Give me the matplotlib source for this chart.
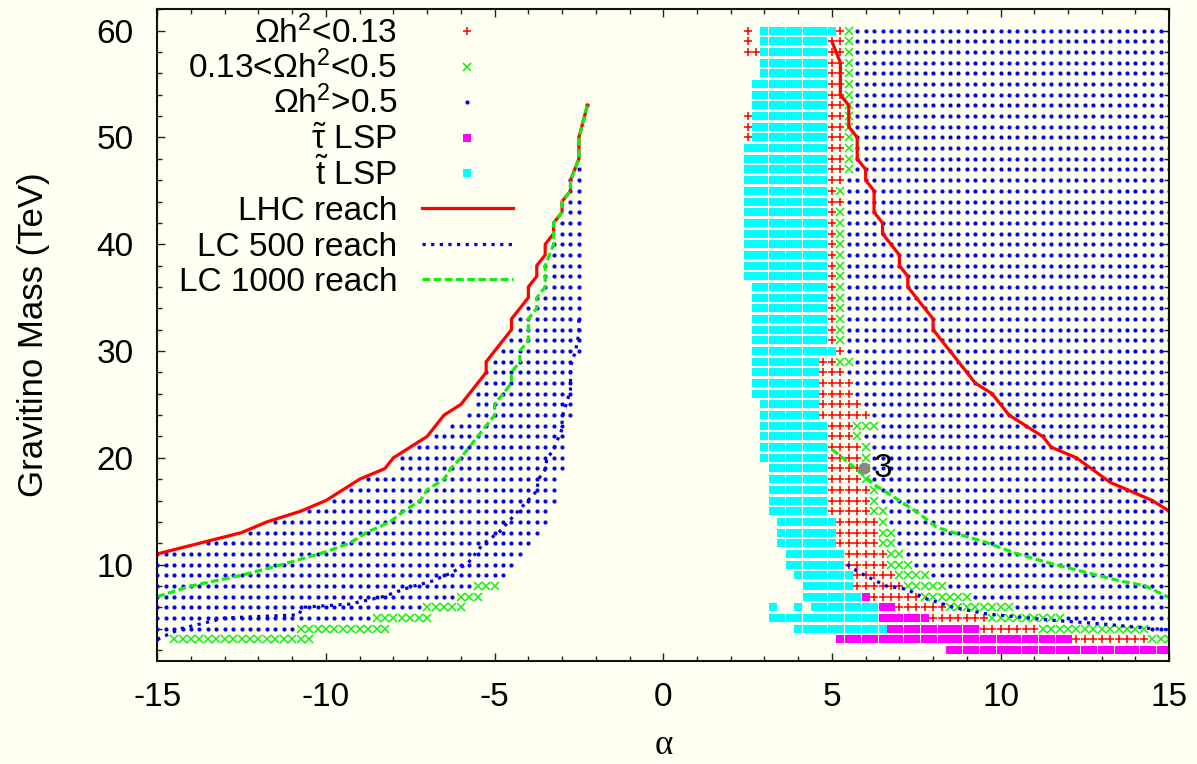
import numpy as np
import matplotlib.pyplot as plt
from matplotlib.ticker import MultipleLocator

plt.rcParams['font.family'] = ['Liberation Sans', 'DejaVu Sans']
plt.rcParams['mathtext.fontset'] = 'custom'
plt.rcParams['mathtext.rm'] = 'Liberation Sans'
plt.rcParams['mathtext.it'] = 'Liberation Sans:italic'
plt.rcParams['axes.unicode_minus'] = False

BG = '#fffff2'
STEP = 0.25  # alpha spacing of the scan grid

# ---- scan results: (gravitino mass, first alpha, last alpha) of each run ----
# Omega h^2 < 0.13
low_runs = [
    (60, 2.5, 2.5), (60, 5.25, 5.25), (59, 2.5, 2.5), (59, 5.0, 5.25),
    (58, 2.5, 2.75), (58, 5.0, 5.25), (57, 5.0, 5.25), (56, 5.0, 5.25),
    (55, 5.0, 5.25), (54, 5.0, 5.25), (53, 5.0, 5.25), (52, 2.5, 2.5),
    (52, 5.0, 5.25), (51, 2.5, 2.5), (51, 5.0, 5.25), (50, 2.5, 2.5),
    (50, 5.0, 5.25), (49, 5.0, 5.25), (48, 5.0, 5.25), (47, 5.0, 5.25),
    (46, 5.0, 5.25), (45, 5.0, 5.0), (44, 5.0, 5.25), (43, 5.0, 5.0),
    (42, 5.0, 5.0), (41, 5.0, 5.0), (40, 5.0, 5.0), (39, 5.0, 5.0),
    (38, 5.0, 5.0), (37, 5.0, 5.0), (36, 5.0, 5.0), (35, 5.0, 5.0),
    (34, 5.0, 5.0), (33, 5.0, 5.0), (32, 5.0, 5.0), (31, 5.0, 5.0),
    (30, 5.25, 5.25), (29, 4.75, 5.0), (28, 4.75, 5.25), (27, 4.75, 5.5),
    (26, 4.75, 5.5), (25, 4.75, 5.75), (24, 4.75, 6.0), (23, 5.0, 5.5),
    (22, 5.0, 5.5), (21, 5.0, 5.75), (20, 5.0, 5.75), (19, 5.0, 5.75),
    (18, 5.0, 5.75), (17, 5.0, 6.0), (16, 5.0, 6.0), (15, 5.0, 6.0),
    (14, 5.25, 6.25), (13, 5.25, 6.25), (12, 5.25, 6.25), (11, 5.5, 6.5),
    (10, 5.5, 6.5), (9, 5.75, 6.75), (8, 5.75, 7.0), (7, 6.25, 7.5),
    (6, 7.0, 8.25), (5, 8.0, 9.5), (4, 9.5, 11.0), (3, 12.25, 14.25),
]
# 0.13 < Omega h^2 < 0.5
mid_runs = [
    (60, 5.5, 5.5), (59, 5.5, 5.5), (58, 5.5, 5.5), (57, 5.5, 5.5),
    (56, 5.5, 5.5), (55, 5.5, 5.5), (54, 5.5, 5.5), (53, 5.5, 5.5),
    (52, 5.5, 5.5), (51, 5.5, 5.5), (50, 5.5, 5.5), (49, 5.5, 5.5),
    (48, 5.5, 5.5), (47, 5.5, 5.5), (45, 5.25, 5.25), (43, 5.25, 5.25),
    (42, 5.25, 5.25), (41, 5.25, 5.25), (40, 5.25, 5.25), (39, 5.25, 5.25),
    (38, 5.25, 5.25), (37, 5.25, 5.25), (36, 5.25, 5.25), (35, 5.25, 5.25),
    (34, 5.25, 5.25), (33, 5.25, 5.25), (32, 5.25, 5.25), (31, 5.25, 5.25),
    (29, 5.25, 5.5), (23, 5.75, 6.25), (22, 5.75, 5.75), (21, 6.0, 6.0),
    (20, 6.0, 6.0), (19, 6.0, 6.0), (18, 6.0, 6.0), (17, 6.25, 6.25),
    (16, 6.25, 6.25), (15, 6.25, 6.5), (14, 6.5, 6.5), (13, 6.5, 6.75),
    (12, 6.5, 6.75), (11, 6.75, 7.0), (10, 6.75, 7.25), (9, 7.0, 7.75),
    (8, 7.25, 8.25), (7, 7.75, 9.0), (6, 8.5, 10.25), (5, 9.75, 11.75),
    (4, 11.25, 14.25), (3, 14.5, 15.0),
    (8, -5.5, -5.0), (7, -6.0, -5.5), (6, -7.0, -6.0), (5, -8.5, -7.0),
    (4, -10.75, -8.25), (3, -14.5, -10.5),
]
# Omega h^2 > 0.5
high_runs = [
    (60, 5.75, 15), (59, 5.75, 15), (58, 5.75, 15), (57, 5.75, 15),
    (56, 5.75, 15), (55, 5.75, 15), (54, 5.75, 15), (53, 5.75, 15),
    (52, 5.75, 15), (51, 5.75, 15), (50, 5.75, 15), (49, 5.75, 15),
    (48, 5.75, 15), (47, 5.75, 15), (46, 5.5, 15), (45, 5.5, 15),
    (44, 5.5, 15), (43, 5.5, 15), (42, 5.5, 15), (41, 5.5, 15),
    (40, 5.5, 15), (39, 5.5, 15), (38, 5.5, 15), (37, 5.5, 15),
    (36, 5.5, 15), (35, 5.5, 15), (34, 5.5, 15), (33, 5.5, 15),
    (32, 5.5, 15), (31, 5.5, 15), (30, 5.5, 15), (29, 5.75, 15),
    (28, 5.5, 15), (27, 5.75, 15), (26, 5.75, 15), (25, 6.0, 15),
    (24, 6.25, 15), (23, 6.5, 15), (22, 6.0, 15), (21, 6.25, 15),
    (20, 6.25, 15), (19, 6.25, 15), (18, 6.25, 15), (17, 6.5, 15),
    (16, 6.5, 15), (15, 6.75, 15), (14, 6.75, 15), (13, 7.0, 15),
    (12, 7.0, 15), (11, 7.25, 15), (10, 7.5, 15), (9, 8.0, 15),
    (8, 8.5, 15), (7, 9.25, 15), (6, 10.5, 15), (5, 12.0, 15),
    (4, 14.5, 15),
    (3, -15.0, -15.0), (4, -15.0, -11.0), (5, -15.0, -8.75), (6, -15.0, -7.25),
    (7, -15.0, -6.25), (8, -15.0, -5.75), (9, -15.0, -4.75), (10, -15.0, -4.5),
    (11, -15.0, -4.25), (12, -13.5, -4.0), (13, -12.25, -3.75), (14, -11.5, -3.5),
    (15, -10.5, -3.5), (16, -9.75, -3.25), (17, -9.25, -3.25), (18, -8.75, -3.25),
    (19, -7.75, -3.0), (20, -7.75, -3.0), (21, -7.25, -3.0), (22, -6.75, -3.0),
    (23, -6.25, -3.0), (24, -5.75, -2.75), (25, -5.5, -2.75), (26, -5.5, -2.75),
    (27, -5.25, -2.75), (28, -5.25, -2.75), (29, -5.0, -2.75), (30, -4.75, -2.5),
    (31, -4.5, -2.5), (32, -4.25, -2.5), (33, -4.25, -2.5), (34, -4.0, -2.5),
    (35, -3.75, -2.5), (36, -3.5, -2.5), (37, -3.5, -2.5), (38, -3.5, -2.5),
    (39, -3.25, -2.5), (40, -3.25, -2.5), (41, -3.0, -2.5), (42, -3.0, -2.5),
    (43, -2.75, -2.5), (44, -2.75, -2.5), (45, -2.75, -2.5), (46, -2.75, -2.5),
    (47, -2.5, -2.5), (53, -2.25, -2.25),
]
# stau LSP
stau_runs = [
    (7, 6.0, 6.0), (6, 6.5, 6.75), (5, 6.5, 7.75), (4, 6.75, 9.25),
    (3, 5.25, 12.0), (2, 8.5, 15.0),
]
# stop LSP
stop_runs = [
    (60, 3.0, 5.0), (59, 3.0, 4.75), (58, 3.0, 4.75), (57, 3.0, 4.75),
    (56, 3.0, 4.75), (55, 2.75, 4.75), (54, 2.75, 4.75), (53, 2.75, 4.75),
    (52, 2.75, 4.75), (51, 2.75, 4.75), (50, 2.75, 4.75), (49, 2.5, 4.75),
    (48, 2.5, 4.75), (47, 2.5, 4.75), (46, 2.5, 4.75), (45, 2.5, 4.75),
    (44, 2.5, 4.75), (43, 2.5, 4.75), (42, 2.5, 4.75), (41, 2.5, 4.75),
    (40, 2.5, 4.75), (39, 2.5, 4.75), (38, 2.5, 4.75), (37, 2.5, 4.75),
    (36, 2.75, 4.75), (35, 2.75, 4.75), (34, 2.75, 4.75), (33, 2.75, 4.75),
    (32, 2.75, 4.75), (31, 2.75, 4.75), (30, 2.75, 5.0), (29, 2.75, 4.5),
    (28, 2.75, 4.5), (27, 2.75, 4.5), (26, 2.75, 4.5), (25, 3.0, 4.5),
    (24, 3.0, 4.5), (23, 3.0, 4.75), (22, 3.0, 4.75), (21, 3.0, 4.75),
    (20, 3.0, 4.75), (19, 3.25, 4.75), (18, 3.25, 4.75), (17, 3.25, 4.75),
    (16, 3.25, 4.75), (15, 3.25, 4.75), (14, 3.5, 5.0), (13, 3.5, 5.0),
    (12, 3.5, 5.0), (11, 3.75, 5.25), (10, 3.75, 5.25), (9, 4.0, 5.5),
    (8, 4.25, 5.5), (7, 4.25, 5.75), (6, 3.25, 3.25), (6, 4.0, 4.0),
    (6, 4.5, 6.25), (5, 3.25, 6.25), (4, 4.0, 6.5),
]

# ---- reach contours (alpha, m_3/2) ----
lhc_left_a = [-15, -13.75, -12.5, -11.75, -10.75, -10.0, -9.0, -8.25, -8.0, -7.0,
              -6.5, -6.0, -5.25, -5.25, -4.5, -4.5, -4.0, -4.0, -3.75, -3.75,
              -3.5, -3.5, -3.25, -3.25, -3.0, -3.0, -2.75, -2.75, -2.5, -2.5, -2.25]
lhc_left_m = [11, 12, 13, 14, 15, 16, 18, 19, 20, 22,
              24, 25, 28, 29, 32, 33, 35, 36, 37, 38,
              39, 40, 41, 42, 43, 44, 45, 46, 48, 50, 53]
lhc_right_a = [5.0, 5.25, 5.25, 5.5, 5.5, 5.75, 5.75, 6.0, 6.0, 6.25, 6.25, 6.5, 6.5,
               7.0, 7.0, 7.25, 7.25, 8.0, 8.0, 9.25, 9.75, 10.25, 11.25, 11.5,
               12.25, 13.25, 14.5, 15.0]
lhc_right_m = [59, 57, 54, 53, 51, 50, 48, 47, 46, 45, 43, 42, 41,
               39, 38, 37, 36, 33, 32, 27, 26, 24, 22, 21,
               20, 17.7, 16, 15]

lc500_left_a = [-15, -14.3, -13.0, -10.8, -10.7, -9.3, -8.3, -7.5, -6.9, -6.3, -5.8,
                -5.35, -4.85, -4.25, -3.75, -3.7, -3.5, -3.45, -3.25, -3.0, -3.0,
                -2.85, -2.75, -2.75, -2.6, -2.5, -2.5]
lc500_left_m = [3, 4, 5, 5.3, 6, 6.3, 7, 7.9, 8.4, 9.2, 10.1,
                11.9, 13.1, 15.2, 16.9, 18, 18.9, 19.9, 20.8, 22.7, 23.8,
                25.3, 26.4, 28.6, 30, 31.7, 33]
lc500_right_a = [5.45, 5.85, 6.6, 7.2, 7.8, 8.6, 9.55, 10.5, 11.7, 13.0, 14.3, 15.0]
lc500_right_m = [10, 9.2, 8.0, 7.7, 6.8, 6.0, 5.4, 5.1, 4.75, 4.45, 4.05, 3.9]

lc1000_left_a = [-15, -14.0, -12.5, -11.3, -10.0, -9.3, -8.8, -8.1, -7.7, -7.2, -7.0,
                 -6.5, -6.3, -6.0, -5.75, -5.5, -5.25, -5.0, -5.0, -4.75, -4.5, -4.5,
                 -4.25, -4.25, -4.0, -4.0, -3.75, -3.75, -3.5, -3.5, -3.25, -3.25,
                 -3.0, -3.0, -2.75, -2.75, -2.5, -2.5, -2.25]
lc1000_left_m = [7, 8, 9, 10, 11.2, 12, 13, 14, 15, 16, 17,
                 18, 19, 20, 21, 22, 23, 24, 25, 26, 27, 28,
                 29, 30, 31, 33, 34, 35, 36, 38, 40, 42,
                 43, 44, 45, 46, 48, 50, 53]
lc1000_right_a = [5.0, 5.7, 6.0, 6.3, 6.9, 7.6, 8.1, 8.6, 9.55, 10.5, 11.5, 12.5,
                  13.5, 14.3, 15.0]
lc1000_right_m = [20.8, 19.0, 18.2, 17.4, 16.2, 14.75, 13.5, 13.0, 12.1, 11.0, 10.1,
                  9.3, 8.5, 8.0, 6.9]

# benchmark point
bench_a, bench_m, bench_name = 5.95, 19, '3'


def expand(runs):
    xs, ys = [], []
    for m, a0, a1 in runs:
        n = int(round((a1 - a0) / STEP)) + 1
        xs.extend(a0 + STEP * np.arange(n))
        ys.extend([m] * n)
    return np.array(xs), np.array(ys)


RED, GREEN, BLUE = '#ff0000', '#11ee11', '#0000e8'
MAGENTA, CYAN = '#ff00ff', '#00ffff'
plus_style = dict(marker='+', ms=6.3, mew=1.1, color=RED)
cross_style = dict(marker='x', ms=5.6, mew=1.1, color=GREEN)
dot_style = dict(marker='o', ms=3.0, mew=0, color=BLUE)
stau_style = dict(marker='s', ms=5.9, mew=0, color=MAGENTA)
stop_style = dict(marker='s', ms=5.9, mew=0, color=CYAN)

fig = plt.figure(figsize=(11.97, 7.64), dpi=100, facecolor=BG)
ax = fig.add_axes([0.1314, 0.1352, 0.8454, 0.8526], facecolor=BG)

x, y = expand(low_runs)
ax.plot(x, y, ls='none', **plus_style)
x, y = expand(mid_runs)
ax.plot(x, y, ls='none', **cross_style)
x, y = expand(high_runs)
ax.plot(x, y, ls='none', **dot_style)
x, y = expand(stau_runs)
ax.plot(x, y, ls='none', **stau_style)
x, y = expand(stop_runs)
ax.plot(x, y, ls='none', **stop_style)

lhc_style = dict(color=RED, lw=2.3, solid_joinstyle='miter')
lc500_style = dict(color=BLUE, lw=2.3, ls=(0, (1.0, 1.7)))
lc1000_style = dict(color=GREEN, lw=2.3, ls=(0, (2.4, 1.1)))
ax.plot(lhc_left_a, lhc_left_m, **lhc_style)
ax.plot(lhc_right_a, lhc_right_m, **lhc_style)
ax.plot(lc500_left_a, lc500_left_m, **lc500_style)
ax.plot(lc500_right_a, lc500_right_m, **lc500_style)
ax.plot(lc1000_left_a, lc1000_left_m, **lc1000_style)
ax.plot(lc1000_right_a, lc1000_right_m, **lc1000_style)

ax.plot([bench_a], [bench_m], ls='none', marker='o', ms=7.5, color='#888888', zorder=5)
ax.text(bench_a + 0.3, bench_m, bench_name, fontsize=24, ha='left', va='center', zorder=5)

# key in the upper left corner, text right-aligned like gnuplot
key_rows = [0.9667, 0.912, 0.858, 0.803, 0.749, 0.6945, 0.6397, 0.5855]
key_text = [r'$\Omega$h$^2$<0.13', r'0.13<$\Omega$h$^2$<0.5', r'$\Omega$h$^2$>0.5',
            r'$\tilde{\mathrm{\tau}}$ LSP', r'$\tilde{\mathrm{t}}$ LSP', 'LHC reach',
            'LC 500 reach', 'LC 1000 reach']
for yk, txt in zip(key_rows, key_text):
    ax.text(0.237, yk - 0.018, txt, transform=ax.transAxes, fontsize=24,
            ha='right', va='baseline')
kx = 0.306
key_marks = [plus_style, cross_style, dot_style, stau_style, stop_style]
for yk, st in zip(key_rows, key_marks):
    ax.plot([kx], [yk], transform=ax.transAxes, ls='none', **st)
seg = [0.2616, 0.3515]
ax.plot(seg, [key_rows[5]] * 2, transform=ax.transAxes, **lhc_style)
ax.plot(seg, [key_rows[6]] * 2, transform=ax.transAxes, **lc500_style)
ax.plot(seg, [key_rows[7]] * 2, transform=ax.transAxes, **lc1000_style)

ax.set_xlim(-15, 15)
ax.set_ylim(1, 62)
ax.xaxis.set_major_locator(MultipleLocator(5))
ax.xaxis.set_minor_locator(MultipleLocator(1))
ax.yaxis.set_major_locator(MultipleLocator(10))
ax.yaxis.set_minor_locator(MultipleLocator(2))
ax.tick_params(which='both', direction='in', top=True, right=True, width=1.0, colors='#222222')
ax.tick_params(which='major', length=6)
ax.tick_params(which='minor', length=3.5)
ax.tick_params(axis='x', which='major', pad=15, labelsize=24, labelcolor='black')
ax.tick_params(axis='y', which='major', pad=17, labelsize=24, labelcolor='black')
for s in ax.spines.values():
    s.set_linewidth(1.5)
    s.set_color('#111111')

ax.set_xlabel('α', fontsize=25, family=['Liberation Serif', 'DejaVu Serif'])
ax.xaxis.set_label_coords(0.5, -0.105)
ax.set_ylabel('Gravitino Mass (TeV)', fontsize=25)
ax.yaxis.set_label_coords(-0.106, 0.5)

fig.savefig('out.png', dpi=100, facecolor=BG)
